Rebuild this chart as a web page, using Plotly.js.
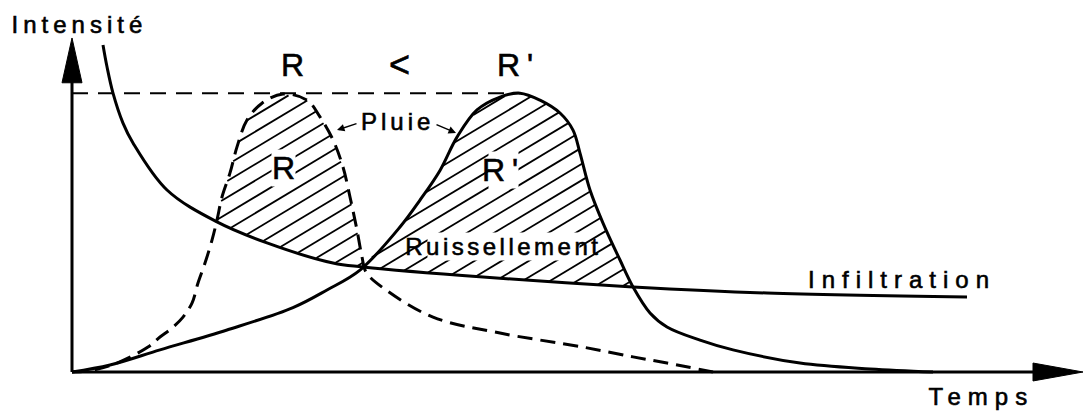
<!DOCTYPE html>
<html>
<head>
<meta charset="utf-8">
<script src="https://cdn.plot.ly/plotly-3.0.1.min.js"></script>
<style>
  html, body { margin: 0; padding: 0; background: #fff; }
  #graph { width: 1084px; height: 414px; }
  .annotation text { stroke: #000; stroke-width: 0.6px; }
  .annotation[data-index="0"] text { letter-spacing: 5px; }
  .annotation[data-index="3"] text { letter-spacing: 7px; }
  .annotation[data-index="4"] text { letter-spacing: 4px; }
  .annotation[data-index="6"] text { letter-spacing: 7px; }
  .annotation[data-index="7"] text { letter-spacing: 3.5px; }
  .annotation[data-index="8"] text { letter-spacing: 7px; }
  .annotation[data-index="9"] text { letter-spacing: 7px; }
</style>
</head>
<body>
<div id="graph"></div>
<script>
const infilT = [3.1, 3.5, 4.1, 5.1, 6.1, 9.5, 14.5, 19.5, 26.1, 29.1, 41.1, 56.1, 69.5, 89.5];
const infilI = [11.68, 10.9, 9.96, 8.89, 8.18, 6.5, 5.36, 4.61, 3.89, 3.75, 3.39, 3.04, 2.82, 2.68];

// Pluie courte et intense (R, en tirets)
const pluieRT = [0, 2.1, 4.5, 7.6, 8.8, 10.0, 11.1, 12.0, 12.6, 13.3, 14.0, 14.5, 15.0, 15.8, 16.5, 17.5, 19.0, 21.1,
                 23.5, 24.8, 26.1, 27.1, 27.8, 28.5, 29.0, 29.4, 31.4, 36.1, 42.8, 51.1, 56.1, 59.5, 64.1];
const pluieRI = [0, 0.07, 0.32, 0.89, 1.25, 1.57, 1.96, 2.46, 3.18, 3.89, 4.71, 5.43, 6.25, 7.11, 8.04, 9.0, 9.6, 9.93,
                 9.71, 9.11, 8.29, 7.32, 6.25, 5.07, 4.11, 3.57, 2.93, 1.96, 1.39, 0.89, 0.54, 0.32, 0];

// Pluie plus longue (R', trait plein)
const pluieR2T = [0, 3.8, 8.8, 15.5, 22.1, 25.5, 28.8, 32.8, 34.8, 36.8, 38.5, 40.5, 42.8, 44.8,
                  46.8, 48.8, 50.1, 50.8, 51.8, 53.1, 54.8, 56.1, 57.8, 59.5, 62.8, 66.1, 72.8, 79.8, 86.1];
const pluieR2I = [0, 0.25, 0.79, 1.5, 2.3, 2.93, 3.64, 5.18, 6.14, 7.2, 8.39, 9.36, 9.82, 9.96,
                  9.71, 9.25, 8.64, 7.82, 6.5, 5.32, 4.0, 3.04, 2.11, 1.61, 1.14, 0.79, 0.32, 0.11, 0];

const T_END = 101.1;   // bout de la flèche du temps
const I_END = 11.93;   // bout de la flèche d'intensité
const PX_T = 10, PX_I = 28; // pixels par unité

function interp(xs, ys, x) {
  if (x < xs[0] || x > xs[xs.length - 1]) return null;
  for (let i = 1; i < xs.length; i++) {
    if (x <= xs[i]) {
      const f = (x - xs[i - 1]) / (xs[i] - xs[i - 1]);
      return ys[i - 1] + f * (ys[i] - ys[i - 1]);
    }
  }
  return null;
}

// polygone où la pluie dépasse l'infiltration (ruissellement)
function zone(tR, iR) {
  const diff = tR.map((t, k) => {
    const f = interp(infilT, infilI, t);
    return f === null ? -1 : iR[k] - f;
  });
  const a = diff.findIndex(d => d > 0);
  let b = a;
  while (b + 1 < diff.length && diff[b + 1] > 0) b++;
  const cross = k => {
    const f = diff[k] / (diff[k] - diff[k + 1]);
    return [tR[k] + f * (tR[k + 1] - tR[k]), iR[k] + f * (iR[k + 1] - iR[k])];
  };
  const p1 = cross(a - 1), p2 = cross(b);
  const xs = [p1[0]], ys = [p1[1]];
  for (let k = a; k <= b; k++) { xs.push(tR[k]); ys.push(iR[k]); }
  xs.push(p2[0]); ys.push(p2[1]);
  for (let k = infilT.length - 1; k >= 0; k--) {
    if (infilT[k] > p1[0] && infilT[k] < p2[0]) { xs.push(infilT[k]); ys.push(infilI[k]); }
  }
  xs.push(p1[0]); ys.push(p1[1]);
  return { xs, ys };
}

// hachures obliques dans les zones, calculées en pixels
function hachures(zones, pente, pas) {
  const hx = [], hy = [];
  zones.forEach(z => {
    const X = z.xs.map(t => t * PX_T), Y = z.ys.map(v => v * PX_I);
    const cs = X.map((x, k) => Y[k] - pente * x);
    const cmin = Math.min(...cs), cmax = Math.max(...cs);
    for (let c = Math.ceil(cmin / pas) * pas; c <= cmax; c += pas) {
      const hits = [];
      for (let k = 0; k < X.length - 1; k++) {
        const d1 = Y[k] - pente * X[k] - c, d2 = Y[k + 1] - pente * X[k + 1] - c;
        if ((d1 < 0) !== (d2 < 0)) {
          const f = d1 / (d1 - d2);
          hits.push(X[k] + f * (X[k + 1] - X[k]));
        }
      }
      hits.sort((u, v) => u - v);
      for (let h = 0; h + 1 < hits.length; h += 2) {
        hx.push(hits[h] / PX_T, hits[h + 1] / PX_T, null);
        hy.push((pente * hits[h] + c) / PX_I, (pente * hits[h + 1] + c) / PX_I, null);
      }
    }
  });
  return { hx, hy };
}

const h = hachures([zone(pluieRT, pluieRI), zone(pluieR2T, pluieR2I)], 0.6, 16.3);

const peakI = Math.max(...pluieR2I);
const peakT = pluieR2T[pluieR2I.indexOf(peakI)];

const data = [
  { x: h.hx, y: h.hy, mode: 'lines', line: { color: '#000', width: 1.8 }, connectgaps: false },
  { x: [0, peakT], y: [peakI, peakI], mode: 'lines', line: { color: '#000', width: 2, dash: '16px,10px' } },
  { x: infilT, y: infilI, mode: 'lines', line: { color: '#000', width: 3, shape: 'spline', smoothing: 1 } },
  { x: pluieRT, y: pluieRI, mode: 'lines', line: { color: '#000', width: 3, dash: '15px,8px', shape: 'spline', smoothing: 1 } },
  { x: pluieR2T, y: pluieR2I, mode: 'lines', line: { color: '#000', width: 3, shape: 'spline', smoothing: 1 } }
];

const txt = (text, x, y, size, bg) => ({
  text, x, y, xref: 'x', yref: 'y', showarrow: false,
  xanchor: 'center', yanchor: 'middle',
  bgcolor: bg ? '#fff' : 'rgba(0,0,0,0)', borderpad: 0,
  font: { family: 'Liberation Sans', size, color: '#000' }
});
const fleche = (x, y, ax, ay) => ({
  text: '', x, y, ax, ay, xref: 'x', yref: 'y', axref: 'x', ayref: 'y',
  showarrow: true, arrowhead: 2, arrowsize: 1, arrowwidth: 1.5, arrowcolor: '#000'
});

const layout = {
  width: 1084, height: 414,
  margin: { l: 0, r: 0, t: 0, b: 0 },
  paper_bgcolor: '#fff', plot_bgcolor: '#fff',
  showlegend: false,
  xaxis: { range: [-7.2, 101.2], visible: false, fixedrange: true },
  yaxis: { range: [-1.5, 13.286], visible: false, fixedrange: true },
  shapes: [
    { type: 'line', xref: 'x', yref: 'y', x0: 0, y0: 0, x1: T_END - 2, y1: 0, line: { color: '#000', width: 3 } },
    { type: 'line', xref: 'x', yref: 'y', x0: 0, y0: 0, x1: 0, y1: I_END - 0.8, line: { color: '#000', width: 3 } },
    { type: 'path', xref: 'x', yref: 'y', path: `M ${T_END} 0 L ${T_END - 5} 0.32 L ${T_END - 5} -0.32 Z`,
      fillcolor: '#000', line: { color: '#000', width: 1 } },
    { type: 'path', xref: 'x', yref: 'y', path: `M 0 ${I_END} L -1 ${I_END - 1.6} L 1 ${I_END - 1.6} Z`,
      fillcolor: '#000', line: { color: '#000', width: 1 } }
  ],
  annotations: [
    txt('Intensité', 0.75, 12.4, 24),
    txt('R', 22.0, 10.96, 32),
    txt('<', 32.7, 11.0, 36),
    txt("R'", 44.6, 10.96, 32),
    txt('Pluie', 32.5, 8.96, 24),
    txt('R', 21.1, 7.29, 32, true),
    txt("R'", 43.1, 7.2, 32, true),
    txt('Ruissellement', 43.1, 4.5, 24, true),
    txt('Infiltration', 83.0, 3.32, 24),
    txt('Temps', 90.9, -0.86, 24),
    fleche(26.5, 8.64, 28.6, 8.89),
    fleche(38.4, 8.54, 36.3, 8.86)
  ]
};

Plotly.newPlot('graph', data, layout, { staticPlot: true });
</script>
</body>
</html>
